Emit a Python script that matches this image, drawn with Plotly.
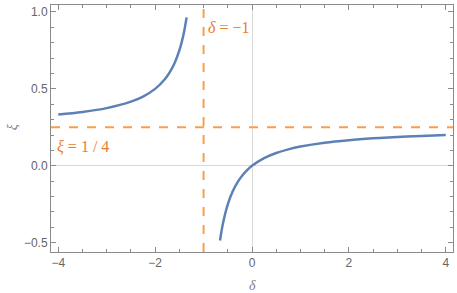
import plotly.graph_objects as go

# left branch (delta < -1)
delta_left = [-4.0, -3.5, -3.0, -2.5, -2.25, -2.0, -1.8, -1.7, -1.6, -1.5, -1.45, -1.4, -1.35]
xi_left = [0.3333, 0.35, 0.375, 0.4167, 0.45, 0.5, 0.5625, 0.6071, 0.6667, 0.75, 0.8056, 0.875, 0.9643]
# right branch (delta > -1)
delta_right = [-0.66, -0.6, -0.5, -0.4, -0.3, -0.2, -0.1, 0.0, 0.25, 0.5, 0.75, 1.0, 1.5, 2.0, 2.5, 3.0, 3.5, 4.0]
xi_right = [-0.4853, -0.375, -0.25, -0.1667, -0.1071, -0.0625, -0.0278, 0.0, 0.05, 0.0833, 0.1071, 0.125,
            0.15, 0.1667, 0.1786, 0.1875, 0.1944, 0.2]

asym_delta = -1
asym_xi = 0.25
x_ticks = [-4, -2, 0, 2, 4]
y_ticks = [-0.5, 0.0, 0.5, 1.0]
y_tick_labels = ["\u22120.5", "0.0", "0.5", "1.0"]
x_tick_labels = ["\u22124", "\u22122", "0", "2", "4"]

blue = "#5E81B5"
orange_line = "#F5A04A"
orange_text = "#EB7C2E"
frame = "#8a8a8a"

fig = go.Figure()
for xs, ys in [(delta_left, xi_left), (delta_right, xi_right)]:
    fig.add_trace(go.Scatter(x=xs, y=ys, mode="lines",
                             line=dict(color=blue, width=2.5, shape="spline"),
                             showlegend=False, hoverinfo="skip"))

fig.add_shape(type="line", xref="x", yref="paper", x0=asym_delta, x1=asym_delta, y0=0, y1=1,
              line=dict(color=orange_line, width=2, dash="dash"))
fig.add_shape(type="line", xref="paper", yref="y", x0=0, x1=1, y0=asym_xi, y1=asym_xi,
              line=dict(color=orange_line, width=2, dash="dash"))

fig.add_annotation(x=asym_delta, y=0.9, xref="x", yref="y", text="<i>δ</i> = \u22121",
                   showarrow=False, xanchor="left", xshift=2,
                   font=dict(family="Liberation Serif", size=16, color=orange_text))
fig.add_annotation(x=-4.15, y=asym_xi, xref="x", yref="y", text="<i>ξ</i> = 1 / 4",
                   showarrow=False, xanchor="left", yanchor="top", xshift=4, yshift=-9,
                   font=dict(family="Liberation Serif", size=16, color=orange_text))

# axis titles
fig.add_annotation(x=0, y=0, xref="x", yref="paper", text="<i>δ</i>", showarrow=False,
                   yanchor="top", yshift=-24,
                   font=dict(family="Liberation Serif", size=14, color="#808080"))
fig.add_annotation(x=0, y=0.25, xref="paper", yref="y", text="<i>ξ</i>", showarrow=False,
                   xanchor="center", xshift=-39, textangle=-90,
                   font=dict(family="Liberation Serif", size=14, color="#808080"))

axis_common = dict(ticks="inside", mirror="ticks", showline=True, linecolor=frame, linewidth=1,
                   tickcolor=frame, ticklen=5, showgrid=False, zeroline=True,
                   zerolinecolor="#d9d9d9", zerolinewidth=1.2, automargin=False,
                   ticklabeloverflow="allow",
                   tickfont=dict(family="Liberation Sans", size=12, color="#666666"))

fig.update_xaxes(range=[-4.15, 4.15], tickvals=x_ticks, ticktext=x_tick_labels,
                 minor=dict(ticks="inside", dtick=0.5, tick0=0, ticklen=3, tickcolor=frame, showgrid=False),
                 **axis_common)
fig.update_yaxes(range=[-0.56, 1.045], tickvals=y_ticks, ticktext=y_tick_labels,
                 minor=dict(ticks="inside", dtick=0.1, tick0=0, ticklen=3, tickcolor=frame, showgrid=False),
                 **axis_common)

fig.update_layout(width=457, height=293, margin=dict(l=51, r=4, t=5, b=41),
                  plot_bgcolor="white", paper_bgcolor="white", hovermode=False)

fig.write_html("out.html", config={"displayModeBar": False},
               post_script="document.body.style.margin='0';document.body.style.overflow='hidden';")
